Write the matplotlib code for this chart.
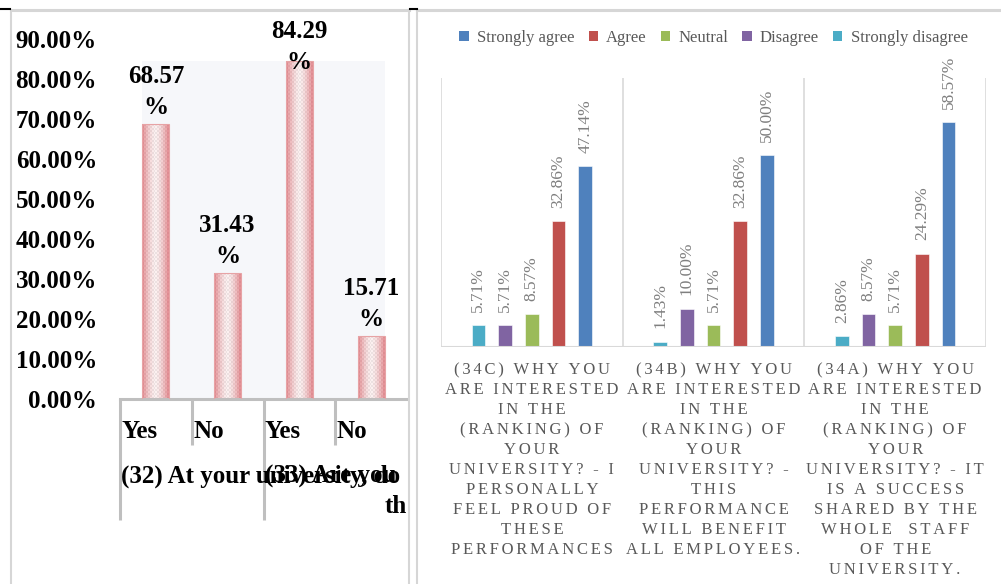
import numpy as np
import matplotlib.pyplot as plt
from matplotlib.lines import Line2D
from matplotlib.patches import Rectangle, Patch

plt.rcParams['font.family'] = ['Liberation Serif', 'DejaVu Sans']

# left chart: yes/no questions
yn_labels = ['Yes', 'No', 'Yes', 'No']
yn_values = [68.57, 31.43, 84.29, 15.71]
group_labels = ['(32) At your university, do', '(33) Are you']
group_tail = 'th'
y_ticks = [0, 10, 20, 30, 40, 50, 60, 70, 80, 90]

# right chart: reasons for interest in the ranking
questions = [
    "(34C) WHY YOU\nARE INTERESTED\nIN THE\n(RANKING) OF\nYOUR\nUNIVERSITY? - I\nPERSONALLY\nFEEL PROUD OF\nTHESE\nPERFORMANCES",
    "(34B) WHY YOU\nARE INTERESTED\nIN THE\n(RANKING) OF\nYOUR\nUNIVERSITY? -\nTHIS\nPERFORMANCE\nWILL BENEFIT\nALL EMPLOYEES.",
    "(34A) WHY YOU\nARE INTERESTED\nIN THE\n(RANKING) OF\nYOUR\nUNIVERSITY? - IT\nIS A SUCCESS\nSHARED BY THE\nWHOLE  STAFF\nOF THE\nUNIVERSITY.",
]
strongly_agree = [47.14, 50.00, 58.57]
agree = [32.86, 32.86, 24.29]
neutral = [8.57, 5.71, 5.71]
disagree = [5.71, 10.00, 8.57]
strongly_disagree = [5.71, 1.43, 2.86]

W, H = 1001, 584
fig = plt.figure(figsize=(W / 100, H / 100), dpi=100)


def fx(x):
    return x / W


def fy(y):
    return 1 - y / H


def spaced(s):
    # loose letter spacing with hair spaces
    return '\n'.join('\u200a\u200a'.join(line) for line in s.split('\n'))


# panel frames
frame_c = '#D6D6D6'
for seg in [((11, 11), (10, 584)), ((409, 409), (10, 584)), ((417, 417), (10, 584))]:
    fig.add_artist(Line2D([fx(v) for v in seg[0]], [fy(v) for v in seg[1]],
                          color=frame_c, lw=1.5))
for seg in [((11, 409), (10, 10)), ((417, 1001), (10, 10))]:
    fig.add_artist(Line2D([fx(v) for v in seg[0]], [fy(v) for v in seg[1]],
                          color=frame_c, lw=2.2))
for seg in [((0, 10), (9, 9)), ((410, 417), (9, 9))]:
    fig.add_artist(Line2D([fx(v) for v in seg[0]], [fy(v) for v in seg[1]],
                          color='black', lw=1.5))

# ---------------- left chart ----------------
ax1 = fig.add_axes([fx(120), fy(399), (407 - 120) / W, (399 - 38.5) / H])
x1 = np.arange(len(yn_values))
bw = 0.376

ax1.add_patch(Rectangle((x1[0] - bw / 2, 0), x1[-1] - x1[0] + bw, max(yn_values),
                        facecolor='#F6F7FA', edgecolor='none', zorder=0))

edge = np.array([0.90, 0.58, 0.60])
pale = np.array([0.99, 0.95, 0.95])
for xi, v in zip(x1, yn_values):
    ncol, nrow = 14, int(round(v * 2))
    c = np.abs(np.arange(ncol) - (ncol - 1) / 2) / ((ncol - 1) / 2)
    g = c ** 1.6
    img = pale[None, None, :] + (edge - pale)[None, None, :] * g[None, :, None]
    img = np.repeat(img, nrow, axis=0)
    chk = (np.add.outer(np.arange(nrow), np.arange(ncol)) % 2).astype(float)
    img = img - 0.06 * chk[:, :, None] * (1 - 0.5 * g[None, :, None])
    ax1.imshow(np.clip(img, 0, 1), extent=(xi - bw / 2, xi + bw / 2, 0, v),
               aspect='auto', interpolation='nearest', zorder=2)
ax1.bar(x1, yn_values, width=bw, color='none', edgecolor='#E7A3A5', lw=0.8, zorder=3)

for xi, v in zip(x1, yn_values):
    ax1.text(xi, min(v + 14.8, 94.6), f"{v:.2f}\n%", ha='center', va='top',
             fontsize=18, fontweight='bold', linespacing=1.45, clip_on=False)

ax1.set_xlim(-0.5, 3.5)
ax1.set_ylim(0, 90)
ax1.set_yticks(y_ticks)
ax1.set_yticklabels([f"{t:.2f}%" for t in y_ticks], fontsize=18, fontweight='bold')
ax1.set_xticks([])
ax1.tick_params(axis='y', length=0, pad=16.5)
for s in ['left', 'top', 'right']:
    ax1.spines[s].set_visible(False)
ax1.spines['bottom'].set_color('#BFBFBF')
ax1.spines['bottom'].set_linewidth(2.2)
ax1.set_facecolor('none')

tr1 = ax1.get_xaxis_transform()
for i, xb in enumerate([-0.5, 0.5, 1.5, 2.5]):
    depth = -0.3356 if i % 2 == 0 else -0.1276
    ax1.plot([xb, xb], [0, depth], transform=tr1, clip_on=False,
             color='#BFBFBF', lw=2.2, solid_capstyle='butt')

for xi, lab in zip(x1, yn_labels):
    ax1.text(xi - 0.5 + 0.02, -0.0915, lab, transform=tr1, ha='left', va='center',
             fontsize=18, fontweight='bold')
for xi, lab in zip([-0.5, 1.5], group_labels):
    ax1.text(xi + 0.02, -0.2136, lab, transform=tr1, ha='left', va='center',
             fontsize=18, fontweight='bold')
ax1.text(3.5, -0.297, group_tail, transform=tr1, ha='right', va='center',
         fontsize=18, fontweight='bold')

# ---------------- right chart ----------------
ax2 = fig.add_axes([fx(441), fy(347), (986 - 441) / W, (347 - 78) / H])
x2 = np.arange(len(questions))
series = [strongly_disagree, disagree, neutral, agree, strongly_agree]
names = ['Strongly disagree', 'Disagree', 'Neutral', 'Agree', 'Strongly agree']
colors = ['#4BACC6', '#8064A2', '#9BBB59', '#C0504D', '#4F81BD']
step, w2 = 0.147, 0.0755

for k, (vals, col) in enumerate(zip(series, colors)):
    xs = x2 + (k - 2) * step
    ax2.bar(xs, vals, width=w2, color=col, edgecolor='white', lw=0.4, zorder=3)
    for xv, v in zip(xs, vals):
        ax2.annotate(f"{v:.2f}%", (xv, v), xytext=(0, 9.5), textcoords='offset points',
                     rotation=90, ha='center', va='bottom', fontsize=12.5,
                     color='#7F7F7F')

for xb in [-0.5, 0.5, 1.5, 2.5]:
    ax2.axvline(xb, color='#D9D9D9', lw=1.2, zorder=1)
ax2.axhline(0, color='#D9D9D9', lw=1.5, zorder=4)

ax2.set_xlim(-0.5, 2.5)
ax2.set_ylim(0, 70)
ax2.set_yticks([])
ax2.set_xticks(x2)
ax2.set_xticklabels([spaced(q) for q in questions], fontsize=12, color='#595959',
                    linespacing=1.33)
ax2.tick_params(axis='x', length=0, pad=11)
for s in ax2.spines.values():
    s.set_visible(False)

handles = [Patch(facecolor=c, edgecolor='none') for c in colors[::-1]]
leg = ax2.legend(handles, names[::-1], loc='center', bbox_to_anchor=(0.5, (347 - 38) / 269),
                 ncol=5, frameon=False, fontsize=12, handlelength=0.55, handleheight=0.55,
                 handletextpad=0.5, columnspacing=0.85, borderaxespad=0)
for t in leg.get_texts():
    t.set_color('#595959')

fig.savefig('out.png', dpi=100)
